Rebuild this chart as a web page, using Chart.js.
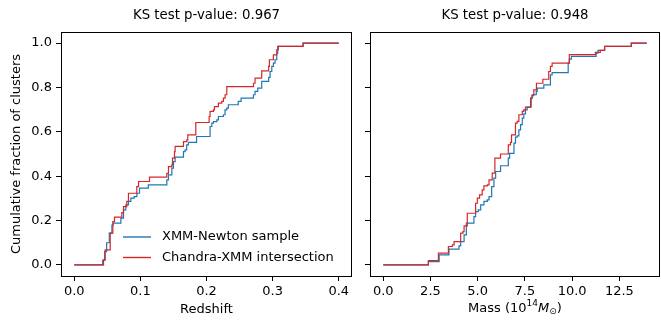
<!DOCTYPE html>
<html>
<head>
<meta charset="utf-8">
<script src="https://cdn.jsdelivr.net/npm/chart.js@4/dist/chart.umd.min.js"></script>
<style>
  body { margin: 0; background: #fff; }
  #wrap { position: relative; width: 661px; height: 320px; }
  canvas { position: absolute; top: 0; }
  #left { left: 0; }
  #right { left: 356px; }
</style>
</head>
<body>
<div id="wrap">
  <canvas id="left" width="356" height="320"></canvas>
  <canvas id="right" width="305" height="320"></canvas>
</div>
<script>
// ECDF steps (x where the step happens, fraction after the step)
const xmmZ = [0, 0.043, 0.046, 0.049, 0.053, 0.057, 0.059, 0.0705, 0.0745, 0.078, 0.082, 0.0856, 0.0906, 0.0947, 0.0987, 0.112, 0.140, 0.1425, 0.1476, 0.150, 0.1526, 0.1652, 0.1677, 0.170, 0.1727, 0.185, 0.2054, 0.208, 0.2105, 0.2156, 0.218, 0.2256, 0.228, 0.2307, 0.233, 0.248, 0.2523, 0.271, 0.2734, 0.2775, 0.2835, 0.294, 0.2961, 0.2987, 0.3011, 0.3036, 0.3062, 0.3077, 0.3087, 0.346, 0.40];
const xmmZFrac = [0, 0.02, 0.06, 0.10, 0.143, 0.18, 0.188, 0.211, 0.248, 0.271, 0.286, 0.301, 0.308, 0.323, 0.346, 0.361, 0.383, 0.406, 0.436, 0.466, 0.486, 0.511, 0.519, 0.541, 0.552, 0.579, 0.624, 0.639, 0.646, 0.654, 0.669, 0.677, 0.699, 0.707, 0.722, 0.737, 0.752, 0.767, 0.782, 0.797, 0.827, 0.845, 0.872, 0.895, 0.910, 0.925, 0.955, 0.970, 0.985, 1.0, 1.0];

const chZ = [0, 0.0443, 0.0468, 0.0544, 0.0584, 0.0609, 0.072, 0.0745, 0.0795, 0.082, 0.0946, 0.0972, 0.1138, 0.140, 0.1425, 0.1476, 0.1486, 0.1516, 0.1526, 0.1652, 0.1702, 0.1717, 0.1838, 0.204, 0.2054, 0.2105, 0.212, 0.218, 0.2231, 0.2256, 0.2281, 0.2307, 0.271, 0.2734, 0.2835, 0.294, 0.2951, 0.3011, 0.3062, 0.3077, 0.346, 0.40];
const chZFrac = [0, 0.023, 0.068, 0.143, 0.195, 0.215, 0.236, 0.263, 0.286, 0.323, 0.353, 0.376, 0.396, 0.413, 0.443, 0.451, 0.481, 0.511, 0.534, 0.556, 0.564, 0.586, 0.642, 0.669, 0.692, 0.699, 0.714, 0.729, 0.737, 0.752, 0.767, 0.804, 0.819, 0.842, 0.875, 0.895, 0.925, 0.947, 0.970, 0.985, 1.0, 1.0];

const xmmM = [0, 2.39, 2.96, 3.48, 4.01, 4.10, 4.28, 4.40, 4.80, 4.89, 5.03, 5.16, 5.33, 5.51, 5.60, 5.74, 5.86, 5.95, 6.21, 6.62, 6.69, 6.92, 7.00, 7.09, 7.18, 7.27, 7.36, 7.44, 7.53, 7.62, 7.83, 7.88, 7.97, 8.10, 8.15, 8.50, 8.85, 8.94, 9.79, 9.85, 9.96, 11.27, 11.37, 11.72, 13.13, 13.95];
const xmmMFrac = [0, 0.015, 0.045, 0.071, 0.086, 0.105, 0.135, 0.188, 0.218, 0.240, 0.248, 0.271, 0.286, 0.293, 0.308, 0.353, 0.391, 0.421, 0.447, 0.481, 0.503, 0.549, 0.576, 0.582, 0.609, 0.632, 0.662, 0.681, 0.699, 0.711, 0.752, 0.763, 0.767, 0.782, 0.797, 0.812, 0.857, 0.867, 0.910, 0.928, 0.940, 0.955, 0.967, 0.985, 1.0, 1.0];

const chM = [0, 2.39, 2.92, 3.45, 3.66, 3.75, 4.10, 4.22, 4.28, 4.45, 4.89, 4.98, 5.10, 5.24, 5.33, 5.51, 5.60, 5.77, 5.91, 6.21, 6.62, 6.74, 6.79, 7.00, 7.09, 7.18, 7.36, 7.44, 7.53, 7.80, 7.88, 7.97, 8.11, 8.45, 8.76, 8.85, 8.94, 9.85, 11.23, 11.49, 11.72, 13.13, 13.95];
const chMFrac = [0, 0.0195, 0.053, 0.083, 0.090, 0.105, 0.143, 0.150, 0.176, 0.233, 0.278, 0.301, 0.316, 0.338, 0.356, 0.361, 0.383, 0.414, 0.481, 0.500, 0.541, 0.552, 0.586, 0.639, 0.647, 0.677, 0.692, 0.699, 0.711, 0.752, 0.767, 0.789, 0.819, 0.837, 0.872, 0.895, 0.910, 0.948, 0.958, 0.967, 0.985, 1.0, 1.0];

const redshiftTicks = [0, 0.1, 0.2, 0.3, 0.4];
const massTicks = [0, 2.5, 5, 7.5, 10, 12.5];
const fracTicks = [0, 0.2, 0.4, 0.6, 0.8, 1.0];

const labels = ['XMM-Newton sample', 'Chandra-XMM intersection'];
const titles = ['KS test p-value: 0.967', 'KS test p-value: 0.948'];

const BLUE = '#1f77b4';
const RED = '#d62728';
const FONT = "'DejaVu Sans', sans-serif";

Chart.defaults.font.family = FONT;
Chart.defaults.font.size = 13;
Chart.defaults.color = '#000';

const pts = (xs, ys) => xs.map((x, i) => ({ x: x, y: ys[i] }));

// black box round the plot, like matplotlib spines, and the title centred on it
const frame = {
  id: 'frame',
  afterDraw(chart, args, opts) {
    const { ctx, chartArea: a } = chart;
    ctx.save();
    ctx.strokeStyle = '#000';
    ctx.lineWidth = 1;
    ctx.strokeRect(Math.round(a.left) + 0.5, Math.round(a.top) + 0.5,
      Math.round(a.right - a.left) - 1, Math.round(a.bottom - a.top));
    ctx.font = '13.3px ' + FONT;
    ctx.fillStyle = '#000';
    ctx.textAlign = 'center';
    ctx.textBaseline = 'middle';
    ctx.fillText(opts.text, (a.left + a.right) / 2, 16);
    ctx.restore();
  }
};

// legend without a box, inside the left plot
const legendInside = {
  id: 'legendInside',
  afterDraw(chart) {
    const ctx = chart.ctx;
    ctx.save();
    ctx.font = '13px ' + FONT;
    ctx.textBaseline = 'middle';
    chart.data.datasets.forEach((ds, i) => {
      const y = 237 + i * 20.5;
      ctx.strokeStyle = ds.borderColor;
      ctx.lineWidth = 1.4;
      ctx.beginPath();
      ctx.moveTo(123, y);
      ctx.lineTo(151, y);
      ctx.stroke();
      ctx.fillStyle = '#000';
      ctx.fillText(ds.label, 162, y);
    });
    ctx.restore();
  }
};

// "Mass (10^14 M_sun)" with super/subscript
const massTitle = {
  id: 'massTitle',
  afterDraw(chart) {
    const ctx = chart.ctx;
    const a = chart.chartArea;
    const y = 309;
    const parts = [
      { t: 'Mass (10', f: '13px ' + FONT, dy: 0 },
      { t: '14', f: '9px ' + FONT, dy: -5 },
      { t: 'M', f: 'oblique 13px ' + FONT, dy: 0 },
      { t: '\u2299', f: '9px ' + FONT, dy: 3 },
      { t: ')', f: '13px ' + FONT, dy: 0 }
    ];
    ctx.save();
    ctx.textBaseline = 'middle';
    ctx.fillStyle = '#000';
    let w = 0;
    parts.forEach(p => { ctx.font = p.f; p.w = ctx.measureText(p.t).width; w += p.w; });
    let x = (a.left + a.right) / 2 - w / 2;
    parts.forEach(p => { ctx.font = p.f; ctx.fillText(p.t, x, y + p.dy); x += p.w; });
    ctx.restore();
  }
};

function makeChart(id, xs1, ys1, xs2, ys2, xMin, xMax, xTicks, title, isLeft) {
  return new Chart(document.getElementById(id), {
    type: 'line',
    data: {
      datasets: [
        { label: labels[0], data: pts(xs1, ys1), borderColor: BLUE, borderWidth: 1.2,
          stepped: true, pointRadius: 0, fill: false, order: 1 },
        { label: labels[1], data: pts(xs2, ys2), borderColor: RED, borderWidth: 1.2,
          stepped: true, pointRadius: 0, fill: false, order: 0 }
      ]
    },
    options: {
      responsive: false,
      animation: false,
      devicePixelRatio: 1,
      layout: { padding: { left: 0, right: isLeft ? 4 : 1, top: 32, bottom: 0 } },
      plugins: {
        legend: { display: false },
        tooltip: { enabled: false },
        title: { display: false },
        frame: { text: title }
      },
      scales: {
        x: {
          type: 'linear', min: xMin, max: xMax,
          afterBuildTicks: s => { s.ticks = xTicks.map(v => ({ value: v })); },
          afterFit: s => { s.height = 44; },
          ticks: { padding: 3, maxRotation: 0, callback: v => v.toFixed(1) },
          grid: { drawOnChartArea: false, tickLength: 5, color: '#000', lineWidth: 1 },
          border: { display: false },
          title: { display: isLeft, text: 'Redshift', padding: { top: 0, bottom: 3 } }
        },
        y: {
          type: 'linear', min: -0.05, max: 1.05,
          afterBuildTicks: s => { s.ticks = fracTicks.map(v => ({ value: v })); },
          afterFit: s => { s.width = isLeft ? 61 : 14; },
          ticks: { display: isLeft, padding: 4, callback: v => v.toFixed(1) },
          grid: { drawOnChartArea: false, tickLength: 5, color: '#000', lineWidth: 1 },
          border: { display: false },
          title: { display: isLeft, text: 'Cumulative fraction of clusters', padding: { top: 9, bottom: 0 } }
        }
      }
    },
    plugins: isLeft ? [frame, legendInside] : [frame, massTitle]
  });
}

makeChart('left', xmmZ, xmmZFrac, chZ, chZFrac, -0.02, 0.42, redshiftTicks, titles[0], true);
makeChart('right', xmmM, xmmMFrac, chM, chMFrac, -0.7, 14.65, massTicks, titles[1], false);
</script>
</body>
</html>
